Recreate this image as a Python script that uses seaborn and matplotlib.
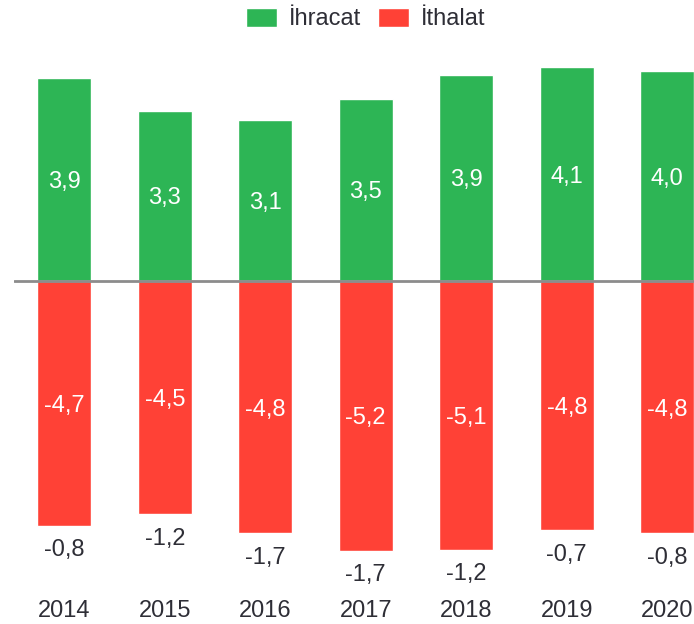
"""
İhracat / ithalat karşılaştırması (2014-2020).

Yeşil çubuklar ihracatı, kırmızı çubuklar ithalatı gösterir;
kırmızı çubukların altındaki değer dış ticaret dengesidir.
"""

import pandas as pd
import seaborn as sns
from matplotlib import pyplot as plt
from matplotlib.patches import Patch

yillar = ["2014", "2015", "2016", "2017", "2018", "2019", "2020"]
ihracat = [3.89, 3.26, 3.08, 3.48, 3.94, 4.09, 4.01]
ithalat = [-4.68, -4.46, -4.82, -5.16, -5.14, -4.77, -4.82]
denge = [-0.8, -1.2, -1.7, -1.7, -1.2, -0.7, -0.8]

seriler = ["İhracat", "İthalat"]
renkler = {"İhracat": "#2db555", "İthalat": "#ff4136"}
yazi_rengi = "#2e2e36"

PX = 52.3  # birim başına piksel


def virgullu(deger: float) -> str:
	"""Ondalık ayırıcı olarak virgül kullanır."""
	return f"{deger:.1f}".replace(".", ",")


def veri_hazirla() -> pd.DataFrame:
	"""Uzun biçimli tablo oluşturur."""
	kayitlar = []
	for yil, ih, it in zip(yillar, ihracat, ithalat):
		kayitlar.append({"Yıl": yil, "Tür": "İhracat", "Değer": ih})
		kayitlar.append({"Yıl": yil, "Tür": "İthalat", "Değer": it})
	return pd.DataFrame(kayitlar)


def ciz(df: pd.DataFrame) -> None:
	sns.set_style("white")
	plt.rcParams["font.family"] = ["Liberation Sans", "DejaVu Sans"]

	fig = plt.figure(figsize=(6.94, 6.24), dpi=100)
	# eksen sağ kenardan taşıyor (son çubuk kesik görünüyor)
	ax = fig.add_axes([14 / 694, 34 / 624, 703.5 / 694, 550 / 624])

	sns.barplot(
		data=df, x="Yıl", y="Değer", hue="Tür", hue_order=seriler,
		palette=renkler, dodge=False, width=0.54, saturation=1,
		legend=False, ax=ax, zorder=2,
	)

	ax.axhline(0, color="#8c8c8c", linewidth=2, zorder=3)
	ax.set_xlim(-0.5, 6.5)
	ax.set_ylim(-309 / PX, 241 / PX)

	# çubuk etiketleri
	for i in range(len(yillar)):
		ax.text(i, ihracat[i] / 2, virgullu(ihracat[i]), ha="center", va="center_baseline",
			color="white", fontsize=17, zorder=4)
		ax.text(i, ithalat[i] / 2, virgullu(ithalat[i]), ha="center", va="center_baseline",
			color="white", fontsize=17, zorder=4)
		ax.text(i, ithalat[i] - 22 / PX, virgullu(denge[i]), ha="center", va="center_baseline",
			color=yazi_rengi, fontsize=17, zorder=4)

	ax.set_xlabel("")
	ax.set_ylabel("")
	ax.set_yticks([])
	ax.tick_params(axis="x", length=0, pad=7.5, labelsize=17, labelcolor=yazi_rengi)
	for kenar in ax.spines.values():
		kenar.set_visible(False)

	tutamaclar = [Patch(facecolor=renkler[s], label=s) for s in seriler]
	ax.legend(
		handles=tutamaclar, loc="center", bbox_to_anchor=(0.5, 1 + 21 / 550),
		ncol=2, frameon=False, fontsize=17, labelcolor=yazi_rengi,
		handlelength=1.3, handleheight=0.85, handletextpad=0.5, columnspacing=0.75,
		borderaxespad=0,
	)

	fig.savefig("out.png", dpi=100)


if __name__ == "__main__":
	ciz(veri_hazirla())
